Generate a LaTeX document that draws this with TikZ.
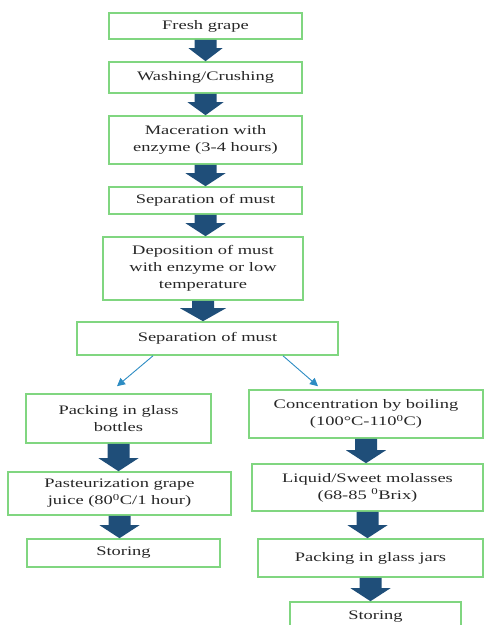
\documentclass[tikz,border=0pt]{standalone}
\usepackage{fontspec}
\setmainfont{Liberation Serif}[FakeStretch=1.42]
\usepackage{tikz}
\usetikzlibrary{arrows.meta,calc}
\definecolor{boxgreen}{RGB}{128,214,128}
\definecolor{flowblue}{RGB}{31,78,121}
\definecolor{splitblue}{RGB}{45,140,195}
\newcommand{\blockdown}[3][40]{%
\fill [flowblue] let \p1=(#2.south), \p2=(#3.north) in
(\x1-11pt,\y1) -- (\x1+11pt,\y1) -- (\x1+11pt,\y2+13pt) -- (\x1+#1pt/2,\y2+13pt) --
(\x1,\y2) -- (\x1-#1pt/2,\y2+13pt) -- (\x1-11pt,\y2+13pt) -- cycle;}

\begin{document}
\begin{tikzpicture}[x=1pt,y=-1pt,
stepbox/.style={draw=boxgreen, line width=1.6pt, align=center, inner sep=1pt,
  font=\fontsize{13}{17}\selectfont, text=black!85},
splitarrow/.style={draw=splitblue, line width=0.9pt, -{Triangle[length=8pt,width=8pt]}}]
\useasboundingbox (0,0) rectangle (484,625);
\node [stepbox, minimum width=193, minimum height=26] (fresh) at (205.5,26) {Fresh grape};
\node [stepbox, minimum width=193, minimum height=31] (wash) at (205.5,77.5) {Washing/Crushing};
\node [stepbox, minimum width=193, minimum height=48] (macer) at (205.5,140) {Maceration with\\enzyme (3-4 hours)};
\node [stepbox, minimum width=193, minimum height=27] (sepone) at (205.5,200.5) {Separation of must};
\node [stepbox, minimum width=200, minimum height=63] (depo) at (203,268.5) {Deposition of must\\with enzyme or low\\temperature};
\node [stepbox, minimum width=261, minimum height=33] (septwo) at (207.5,338.5) {Separation of must};
\node [stepbox, minimum width=185, minimum height=49] (packb) at (118.5,418.5) {Packing in glass\\bottles};
\node [stepbox, minimum width=234, minimum height=48] (conc) at (366,414) {Concentration by boiling\\(100°C-110\textsuperscript{0}C)};
\node [stepbox, minimum width=223, minimum height=43] (past) at (119.5,493.5) {Pasteurization grape\\juice (80\textsuperscript{0}C/1 hour)};
\node [stepbox, minimum width=193, minimum height=28] (storeone) at (123.5,553) {Storing};
\node [stepbox, minimum width=231, minimum height=47] (liquid) at (367.5,487.5) {Liquid/Sweet molasses\\(68-85 \textsuperscript{0}Brix)};
\node [stepbox, minimum width=225, minimum height=38] (packj) at (370.5,558) {Packing in glass jars};
\node [stepbox, minimum width=171, minimum height=30] (storetwo) at (375.5,617) {Storing};
\blockdown[34]{fresh}{wash}
\blockdown[36]{wash}{macer}
\blockdown{macer}{sepone}
\blockdown{sepone}{depo}
\blockdown[46]{depo}{septwo}
\blockdown{packb}{past}
\blockdown{past}{storeone}
\blockdown{conc}{liquid}
\blockdown{liquid}{packj}
\blockdown{packj}{storetwo}
\draw [splitarrow] ([xshift=-54.5pt]septwo.south) -- ([xshift=-1.5pt,yshift=7pt]packb.north);
\draw [splitarrow] ([xshift=75.5pt]septwo.south) -- ([xshift=-48pt,yshift=3pt]conc.north);
\end{tikzpicture}
\end{document}
